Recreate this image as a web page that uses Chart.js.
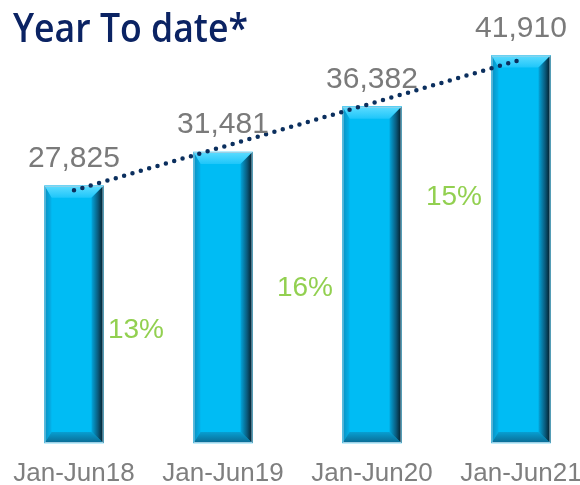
<!DOCTYPE html>
<html><head><meta charset="utf-8">
<script src="https://cdn.jsdelivr.net/npm/chart.js@4"></script>
<style>html,body{margin:0;padding:0;background:#fff}#wrap{position:relative;width:580px;height:485px}</style>
</head><body><div id="wrap"><canvas id="c" width="580" height="485"></canvas></div>
<script>
const categories = ['Jan-Jun18', 'Jan-Jun19', 'Jan-Jun20', 'Jan-Jun21'];
const ytdValues = [27825, 31481, 36382, 41910];
const growthPct = [13, 16, 15];
const trendValues = [27330, null, null, 41470];
const titleText = 'Year To date*';

// label placement (category index position, value-axis baseline)
const growthPos = [{i: 0.416, v: 11350}, {i: 1.55, v: 15890}, {i: 2.55, v: 25730}];

function lerp(a, b, t){ return a + (b - a) * t; }

const bevelPlugin = {
  id: 'bevel',
  afterDatasetDraw(chart, args) {
    if (args.index !== 0) return;
    const ctx = chart.ctx;
    args.meta.data.forEach(el => {
      const p = el.getProps(['x', 'y', 'base', 'width'], true);
      const L = p.x - p.width / 2, R = p.x + p.width / 2, T = p.y, B = p.base;
      const t = 12, b = 11, l = 7, r = 12;
      ctx.save();
      ctx.fillStyle = '#00bcf4';
      ctx.fillRect(L, T, R - L, B - T);
      let g = ctx.createLinearGradient(0, T, 0, T + t);
      g.addColorStop(0, '#5edcff'); g.addColorStop(1, '#1ec6fa');
      ctx.fillStyle = g;
      ctx.beginPath(); ctx.moveTo(L, T); ctx.lineTo(R, T); ctx.lineTo(R - r, T + t); ctx.lineTo(L + l, T + t); ctx.closePath(); ctx.fill();
      g = ctx.createLinearGradient(L, 0, L + l, 0);
      g.addColorStop(0, '#0a8fc0'); g.addColorStop(1, '#03b2ea');
      ctx.fillStyle = g;
      ctx.beginPath(); ctx.moveTo(L, T); ctx.lineTo(L + l, T + t); ctx.lineTo(L + l, B - b); ctx.lineTo(L, B); ctx.closePath(); ctx.fill();
      g = ctx.createLinearGradient(0, B - b, 0, B);
      g.addColorStop(0, '#079fd2'); g.addColorStop(1, '#0b6a92');
      ctx.fillStyle = g;
      ctx.beginPath(); ctx.moveTo(L, B); ctx.lineTo(L + l, B - b); ctx.lineTo(R - r, B - b); ctx.lineTo(R, B); ctx.closePath(); ctx.fill();
      g = ctx.createLinearGradient(R - r, 0, R, 0);
      g.addColorStop(0, '#02a6dc'); g.addColorStop(0.55, '#0a5a7c'); g.addColorStop(1, '#021620');
      ctx.fillStyle = g;
      ctx.beginPath(); ctx.moveTo(R, T); ctx.lineTo(R, B); ctx.lineTo(R - r, B - b); ctx.lineTo(R - r, T + t); ctx.closePath(); ctx.fill();
      ctx.strokeStyle = '#9fcfe4';
      ctx.lineWidth = 1;
      ctx.strokeRect(L + 0.5, T + 0.5, R - L - 1, B - T - 1);
      ctx.restore();
    });
  }
};

const textPlugin = {
  id: 'texts',
  afterDraw(chart) {
    const ctx = chart.ctx;
    const xs = chart.scales.x, ys = chart.scales.y;
    ctx.save();
    // title (fit to reference width)
    ctx.font = '600 40px "Open Sans"';
    ctx.fillStyle = '#0b2363';
    ctx.textAlign = 'left';
    ctx.textBaseline = 'alphabetic';
    const w = ctx.measureText(titleText).width;
    ctx.save();
    ctx.translate(13, 42);
    ctx.scale(235 / w, 1);
    ctx.fillText(titleText, 0, 0);
    ctx.restore();
    // value labels
    ctx.font = '30px "Liberation Sans"';
    ctx.fillStyle = '#7a7a7a';
    ctx.textAlign = 'center';
    chart.getDatasetMeta(0).data.forEach((el, i) => {
      ctx.fillText(ytdValues[i].toLocaleString('en-US'), el.x, el.y - 18.5);
    });
    // growth labels
    ctx.font = '28px "Liberation Sans"';
    ctx.fillStyle = '#92d050';
    growthPct.forEach((g, k) => {
      const pos = growthPos[k];
      const i0 = Math.floor(pos.i);
      const x = lerp(xs.getPixelForValue(i0), xs.getPixelForValue(i0 + 1), pos.i - i0);
      ctx.fillText(g + '%', x, ys.getPixelForValue(pos.v));
    });
    ctx.restore();
  }
};

new Chart(document.getElementById('c'), {
  data: {
    labels: categories,
    datasets: [
      {
        type: 'bar',
        data: ytdValues,
        backgroundColor: '#00bcf4',
        borderWidth: 0,
        barThickness: 59,
        clip: false,
        order: 1
      },
      {
        type: 'line',
        data: trendValues,
        spanGaps: true,
        borderColor: '#0b2f5e',
        borderWidth: 4.5,
        borderDash: [0, 8.7],
        borderCapStyle: 'round',
        pointRadius: 0,
        tension: 0,
        fill: false,
        clip: false,
        order: 0
      }
    ]
  },
  options: {
    responsive: false,
    animation: false,
    devicePixelRatio: 1,
    layout: { padding: { left: 74, right: 59, top: 27, bottom: 0 } },
    plugins: { legend: { display: false }, tooltip: { enabled: false }, title: { display: false } },
    scales: {
      x: {
        type: 'category',
        offset: false,
        grid: { display: false, drawTicks: false, tickLength: 0 },
        border: { display: false },
        ticks: { color: '#7f7f7f', font: { family: 'Liberation Sans', size: 26, lineHeight: 1 }, padding: 18, maxRotation: 0, autoSkip: false },
        afterFit(scale) { scale.paddingLeft = 0; scale.paddingRight = 0; scale.height = 42; }
      },
      y: {
        display: false,
        min: 0,
        max: 45000
      }
    }
  },
  plugins: [bevelPlugin, textPlugin]
});
</script></body></html>
